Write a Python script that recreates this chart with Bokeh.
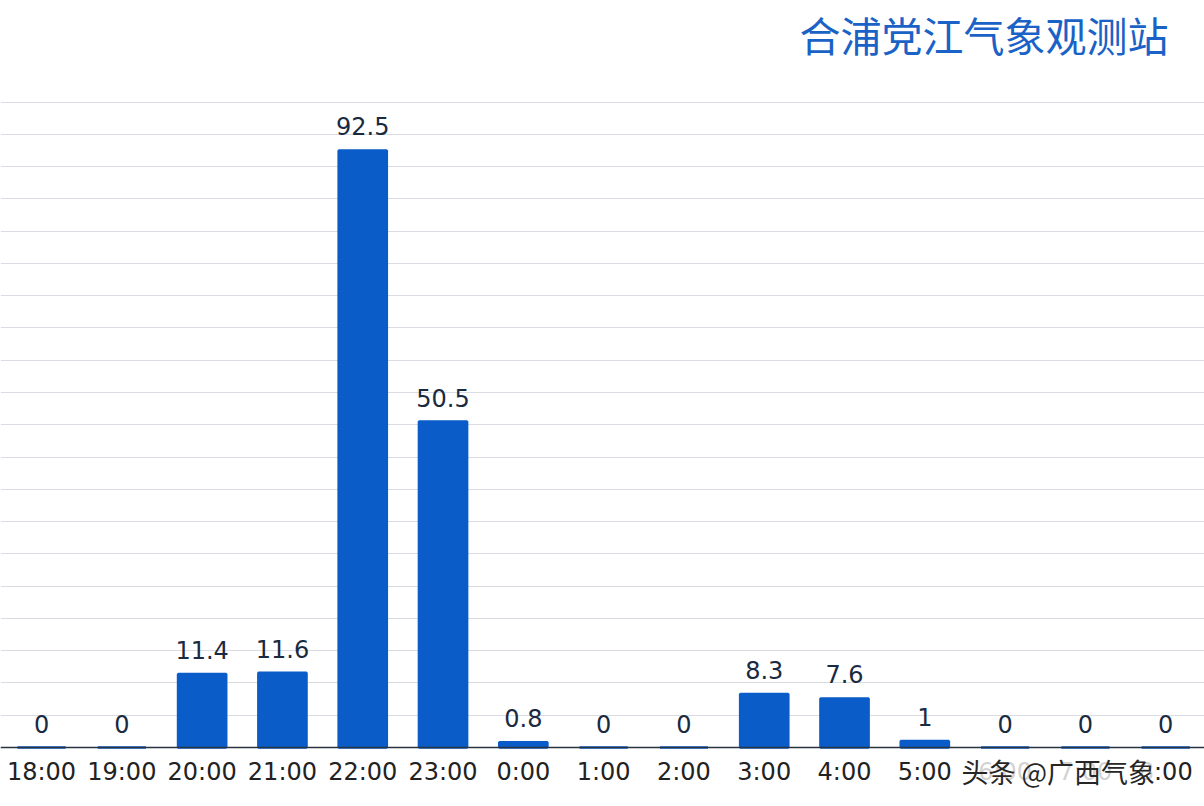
from bokeh.plotting import figure
from bokeh.models import ColumnDataSource, Range1d, FixedTicker, Label
from bokeh.embed import file_html
from bokeh.resources import INLINE
from bokeh.core.properties import value

hours = ["18:00", "19:00", "20:00", "21:00", "22:00", "23:00", "0:00", "1:00",
         "2:00", "3:00", "4:00", "5:00", "6:00", "7:00", "8:00"]
rain = [0, 0, 11.4, 11.6, 92.5, 50.5, 0.8, 0, 0, 8.3, 7.6, 1, 0, 0, 0]
value_labels = ["0", "0", "11.4", "11.6", "92.5", "50.5", "0.8", "0", "0",
                "8.3", "7.6", "1", "0", "0", "0"]
grid_ticks = list(range(5, 101, 5))
title_text = "合浦党江气象观测站"
watermark_text = "头条 @广西气象"

BAR = "#0a5cc9"
xs = list(range(len(hours)))
src = ColumnDataSource(dict(x=xs, top=rain, lab=value_labels))

p = figure(width=1204, height=800, output_backend="svg", toolbar_location=None,
           x_range=Range1d(-0.511, 14.483), y_range=Range1d(-8.21, 115.74),
           min_border_left=0, min_border_right=0, min_border_top=0,
           min_border_bottom=0)
p.outline_line_color = None
p.background_fill_color = "white"
p.border_fill_color = "white"

p.vbar(x="x", top="top", bottom=0, width=0.6, source=src,
       fill_color=BAR, line_color=BAR, line_width=2.5)
p.text(x="x", y="top", text="lab", source=src, text_align="center",
       text_baseline="alphabetic", y_offset=-24,
       text_font=value("DejaVu Sans"), text_font_size="24px",
       text_color="#1a2a40")

p.yaxis.visible = False
p.xgrid.visible = False
p.ygrid.ticker = FixedTicker(ticks=grid_ticks)
p.ygrid.grid_line_color = "#d9dde3"
p.ygrid.grid_line_width = 1.2

ax = p.xaxis[0]
ax.fixed_location = 0
ax.ticker = FixedTicker(ticks=xs)
ax.major_label_overrides = {i: h for i, h in enumerate(hours)}
ax.major_tick_line_color = None
ax.minor_tick_line_color = None
ax.axis_line_color = "#2a3440"
ax.axis_line_width = 1.5
ax.major_label_text_font = "DejaVu Sans"
ax.major_label_text_font_size = "24px"
ax.major_label_text_color = "#222222"
ax.major_label_standoff = 4

p.add_layout(Label(x=1168, y=767, x_units="screen", y_units="screen",
                   text=title_text, text_align="right", text_baseline="middle",
                   text_font="Noto Sans CJK SC", text_font_size="41px",
                   text_color="#1a62c6"))
p.add_layout(Label(x=961, y=29, x_units="screen", y_units="screen",
                   text=watermark_text, text_align="left",
                   text_baseline="middle", text_font="Noto Sans CJK SC",
                   text_font_size="27px", text_color="#262626",
                   background_fill_color="white", background_fill_alpha=0.8))

open("out.html", "w").write(file_html(p, INLINE))
